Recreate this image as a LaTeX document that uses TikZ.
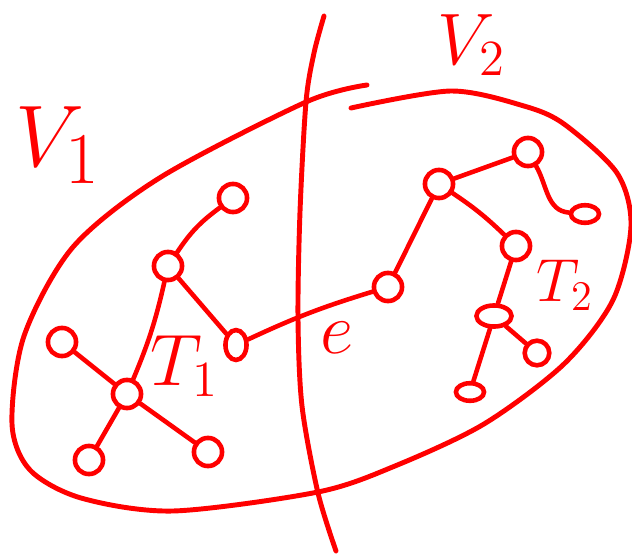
\documentclass[tikz,border=0pt]{standalone}
\usepackage{amsmath}
\usetikzlibrary{shapes.geometric}
\tikzset{
    % vertices of the two trees
    vtx/.style={circle, draw=red, line width=1.3pt, minimum size=8pt, inner sep=0pt},
    leaf/.style={ellipse, draw=red, line width=1.3pt, minimum width=8pt, minimum height=5pt, inner sep=0pt},
    treeedge/.style={line width=1.3pt, red, line cap=round},
    redline/.style={line width=1.4pt, red, line cap=round},
    lbl/.style={red, inner sep=0pt}
}
\begin{document}
\begin{tikzpicture}[x=0.01cm, y=-0.01cm]
   \useasboundingbox (0,0) rectangle (632,554);
   % the cut
   \draw[redline] plot[smooth] coordinates {(324,16) (314,53) (306,102) (300,212) (298,318) (302,406) (318,493) (336,551)};
   % the graph
   \draw[redline] plot[smooth] coordinates {(367,85) (306,102) (161,177) (73,247) (24,336) (12,424) (30,470) (81,498) (173,511) (318,492) (395,466) (484,424) (564,364) (613,300) (631,226) (617,173) (564,124) (524,106) (451,91) (351,108)};

   % T_1
   \node[vtx] (a) at (233,198) {};
   \node[vtx] (b) at (168,266) {};
   \node[leaf, minimum width=6pt, minimum height=8.5pt] (c) at (236,345) {};
   \node[vtx] (d) at (127,394) {};
   \node[vtx] (e1) at (62,342) {};
   \node[vtx] (f) at (89,460) {};
   \node[vtx] (g) at (208,452) {};
   % T_2
   \node[vtx] (h) at (388,287) {};
   \node[vtx] (i) at (439,184) {};
   \node[vtx] (j) at (528,152) {};
   \node[leaf] (k) at (585,214) {};
   \node[vtx] (l) at (516,246) {};
   \node[leaf, minimum width=10pt, minimum height=6pt] (m) at (494,316) {};
   \node[vtx, minimum size=7pt] (n) at (537,353) {};
   \node[leaf] (o) at (470,392) {};

   \draw[treeedge] (a) to[bend right=10] (b);
   \draw[treeedge] (b) -- (c);
   \draw[treeedge] (b) to[bend left=5] (d);
   \draw[treeedge] (d) -- (e1);
   \draw[treeedge] (d) -- (f);
   \draw[treeedge] (d) -- (g);
   \draw[treeedge] (c) to[bend left=4] (h);
   \draw[treeedge] (h) -- (i);
   \draw[treeedge] (i) -- (j);
   \draw[treeedge] (j) to[out=-60, in=175] (k);
   \draw[treeedge] (i) to[bend left=5] (l);
   \draw[treeedge] (l) -- (m);
   \draw[treeedge] (m) -- (n);
   \draw[treeedge] (m) -- (o);

   \node[lbl, font=\Huge] (v1) at (58,145) {$V_1$};
   \node[lbl, font=\huge] (v2) at (472,45) {$V_2$};
   \node[lbl, font=\huge] (t1) at (185,366) {$T_1$};
   \node[lbl, font=\LARGE] (t2) at (565,285) {$T_2$};
   \node[lbl, font=\huge] (el) at (337,338) {$e$};
\end{tikzpicture}
\end{document}
